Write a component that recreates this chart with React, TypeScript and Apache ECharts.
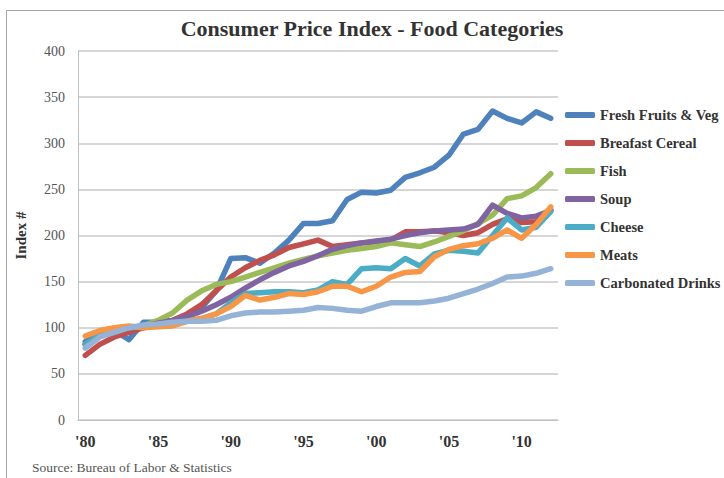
import React, { useEffect, useRef } from "react";
import * as echarts from "echarts";

const years = [
  1980, 1981, 1982, 1983, 1984, 1985, 1986, 1987, 1988, 1989, 1990, 1991, 1992, 1993, 1994, 1995, 1996,
  1997, 1998, 1999, 2000, 2001, 2002, 2003, 2004, 2005, 2006, 2007, 2008, 2009, 2010, 2011, 2012,
];

const freshFruitsVeg = [
  85, 93, 97, 87, 106, 106, 108, 112, 122, 140, 175, 176, 170, 181, 195, 213, 213,
  216, 239, 247, 246, 249, 263, 268, 274, 287, 310, 315, 335, 327, 322, 334, 327,
];
const breakfastCereal = [
  70, 82, 90, 95, 100, 103, 108, 115, 125, 140, 155, 165, 173, 179, 187, 191, 195,
  188, 190, 192, 193, 195, 204, 204, 205, 203, 200, 203, 212, 218, 214, 215, 228,
];
const fish = [
  82, 92, 97, 100, 102, 108, 116, 130, 140, 147, 150, 155, 160, 165, 170, 174, 178,
  181, 184, 186, 188, 192, 190, 188, 193, 199, 205, 213, 222, 240, 243, 252, 267,
];
const soup = [
  82, 92, 97, 100, 102, 105, 108, 112, 118, 125, 133, 143, 152, 160, 167, 172, 178,
  185, 189, 192, 194, 196, 200, 203, 205, 206, 207, 212, 233, 224, 219, 221, 227,
];
const cheese = [
  82, 92, 97, 100, 101, 103, 105, 107, 110, 115, 127, 137, 138, 139, 139, 138, 141,
  150, 147, 164, 165, 164, 175, 167, 180, 184, 183, 181, 200, 219, 206, 209, 226,
];
const meats = [
  91, 97, 100, 102, 100, 101, 102, 107, 110, 115, 123, 135, 130, 133, 137, 136, 139,
  145, 145, 139, 145, 155, 160, 161, 177, 185, 189, 191, 197, 206, 197, 212, 231,
];
const carbonatedDrinks = [
  78, 90, 95, 100, 103, 104, 106, 107, 107, 108, 113, 116, 117, 117, 118, 119, 122,
  121, 119, 118, 123, 127, 127, 127, 129, 132, 137, 142, 148, 155, 156, 159, 164,
];

const seriesNames = [
  "Fresh Fruits & Veg",
  "Breafast Cereal",
  "Fish",
  "Soup",
  "Cheese",
  "Meats",
  "Carbonated Drinks",
];
const seriesData = [freshFruitsVeg, breakfastCereal, fish, soup, cheese, meats, carbonatedDrinks];
const colors = ["#4F81BD", "#C0504D", "#9BBB59", "#8064A2", "#4BACC6", "#F79646", "#95B3D7"];

const titleText = "Consumer Price Index - Food Categories";
const yAxisName = "Index #";
const sourceText = "Source: Bureau of Labor & Statistics";

const serif = "'Liberation Serif', 'Times New Roman', serif";

export default function App() {
  const ref = useRef<HTMLDivElement>(null);

  useEffect(() => {
    document.body.style.margin = "0";
    const chart = echarts.init(ref.current!, null, { renderer: "svg" });
    chart.setOption({
      animation: false,
      backgroundColor: "#ffffff",
      color: colors,
      grid: { left: 78, right: 166, top: 51, bottom: 58 },
      xAxis: {
        type: "category",
        boundaryGap: true,
        data: years.map((y) => "'" + String(y).slice(2)),
        axisLine: { lineStyle: { color: "#bfbfbf", width: 1 } },
        axisTick: { show: false },
        axisLabel: {
          interval: 4,
          margin: 13,
          fontFamily: serif,
          fontWeight: "bold",
          fontSize: 16,
          color: "#333333",
        },
      },
      yAxis: {
        type: "value",
        min: 0,
        max: 400,
        interval: 50,
        name: yAxisName,
        nameLocation: "middle",
        nameGap: 50,
        nameTextStyle: { fontFamily: serif, fontWeight: "bold", fontSize: 15, color: "#333333" },
        axisLine: { show: true, lineStyle: { color: "#bfbfbf", width: 1 } },
        axisTick: { show: false },
        splitLine: { lineStyle: { color: "#c8c8c8", width: 1.5 } },
        axisLabel: { fontFamily: serif, fontSize: 14, color: "#555555", margin: 13 },
      },
      legend: {
        orient: "vertical",
        left: 560,
        top: 102.5,
        itemWidth: 30,
        itemHeight: 6,
        itemGap: 13,
        icon: "roundRect",
        textStyle: { fontFamily: serif, fontWeight: "bold", fontSize: 14.5, color: "#333333" },
        data: seriesNames,
      },
      series: seriesNames.map((name, i) => ({
        name,
        type: "line",
        data: seriesData[i],
        symbol: "none",
        lineStyle: { width: 5.5, color: colors[i], cap: "round", join: "round" },
        itemStyle: { color: colors[i] },
      })),
      graphic: [
        {
          type: "rect",
          shape: { x: 6.5, y: 10.5, width: 740, height: 480 },
          style: { fill: "none", stroke: "#a6a6a6", lineWidth: 1 },
          silent: true,
        },
        {
          type: "text",
          x: 372,
          y: 28,
          style: {
            text: titleText,
            fontFamily: serif,
            fontWeight: "bold",
            fontSize: 22,
            fill: "#333333",
            textAlign: "center",
            textVerticalAlign: "middle",
          },
        },
        {
          type: "text",
          x: 32,
          y: 467,
          style: {
            text: sourceText,
            fontFamily: serif,
            fontSize: 13.5,
            fill: "#555555",
            textAlign: "left",
            textVerticalAlign: "middle",
          },
        },
      ],
    });
    return () => chart.dispose();
  }, []);

  return <div ref={ref} style={{ width: 724, height: 478 }} />;
}
